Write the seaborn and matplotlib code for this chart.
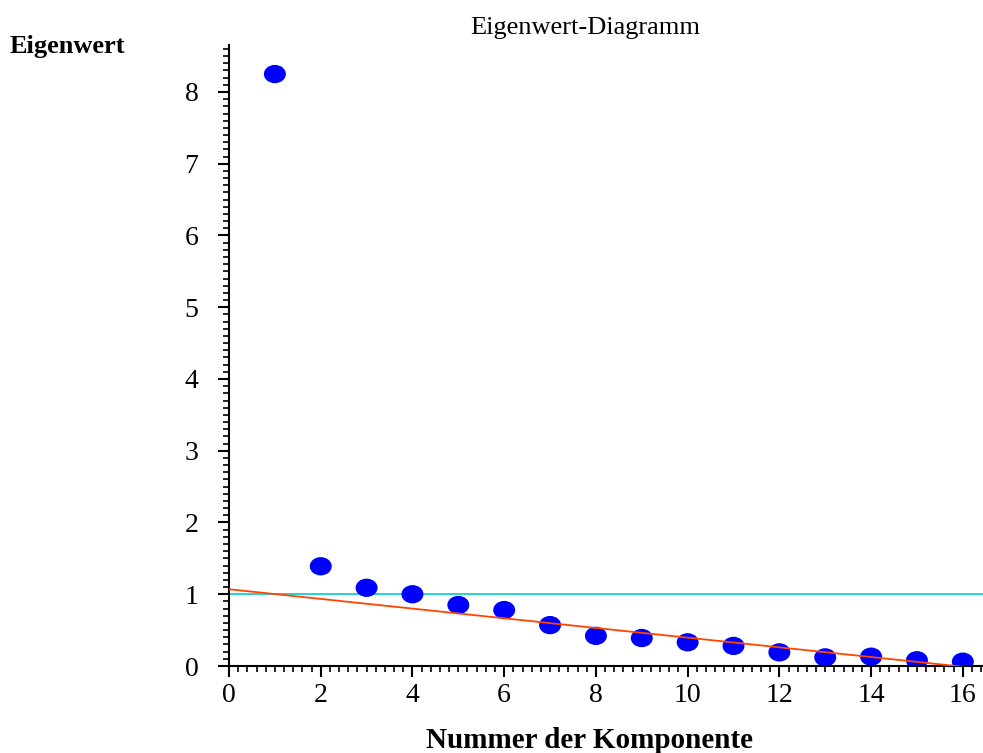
import numpy as np
import pandas as pd
import matplotlib
matplotlib.use("Agg")
import matplotlib.pyplot as plt
from matplotlib.path import Path
from matplotlib.ticker import MultipleLocator
import seaborn as sns

# Eigenvalues per component
components = list(range(1, 17))
eigenvalues = [8.25, 1.39, 1.09, 1.00, 0.85, 0.78, 0.57, 0.42,
               0.39, 0.33, 0.28, 0.19, 0.12, 0.13, 0.08, 0.06]

# Kaiser criterion reference line (eigenvalue = 1)
kaiser_x = [0, 16.44]
kaiser_y = [1.0, 1.0]

# Trend line through the scree
trend_x = [0, 16]
trend_y = [1.07, -0.01]

sns.set_theme(style="ticks")
plt.rcParams["font.family"] = ["Liberation Serif", "DejaVu Serif"]
plt.rcParams["text.color"] = "black"

fig = plt.figure(figsize=(9.83, 7.53), dpi=100)
ax = fig.add_axes([229 / 983, 1 - 666 / 753, 1 - 229 / 983, (666 - 45) / 753])

df = pd.DataFrame({"Komponente": components, "Eigenwert": eigenvalues})

sns.lineplot(x=kaiser_x, y=kaiser_y, ax=ax, color="#00CCCC", linewidth=1.2, zorder=1)

# Wide ellipse marker
circle = Path.unit_circle()
ellipse = Path(circle.vertices * np.array([1.2, 1.0]), circle.codes)
sns.scatterplot(data=df, x="Komponente", y="Eigenwert", ax=ax, marker=ellipse,
                s=250, color="#0000FF", edgecolor="none", linewidth=0, zorder=2)

sns.lineplot(x=trend_x, y=trend_y, ax=ax, color="#FF4500", linewidth=1.3, zorder=3)

ax.set_xlim(0, 16.44)
ax.set_ylim(0, 8.655)
ax.xaxis.set_major_locator(MultipleLocator(2))
ax.xaxis.set_minor_locator(MultipleLocator(0.2))
ax.yaxis.set_major_locator(MultipleLocator(1))
ax.yaxis.set_minor_locator(MultipleLocator(0.1))

for side in ("top", "right"):
    ax.spines[side].set_visible(False)
for side in ("left", "bottom"):
    ax.spines[side].set_color("black")
    ax.spines[side].set_linewidth(1.5)

ax.tick_params(which="major", direction="out", length=8, width=1.5, colors="black",
               labelsize=20)
ax.tick_params(which="minor", direction="out", length=4, width=1.2, colors="black")
ax.tick_params(axis="y", which="major", pad=14)
ax.tick_params(axis="x", which="major", pad=4)
ax.set_xlabel("")
ax.set_ylabel("")

fig.text(585 / 983, 1 - 28 / 753, "Eigenwert-Diagramm", ha="center", va="center",
         fontsize=19, color="black")
fig.text(10 / 983, 1 - 47 / 753, "Eigenwert", ha="left", va="center",
         fontsize=19, fontweight="bold", color="black")
fig.text(590 / 983, 1 - 741 / 753, "Nummer der Komponente", ha="center", va="center",
         fontsize=21, fontweight="bold", color="black")

fig.savefig("out.png", dpi=100)
